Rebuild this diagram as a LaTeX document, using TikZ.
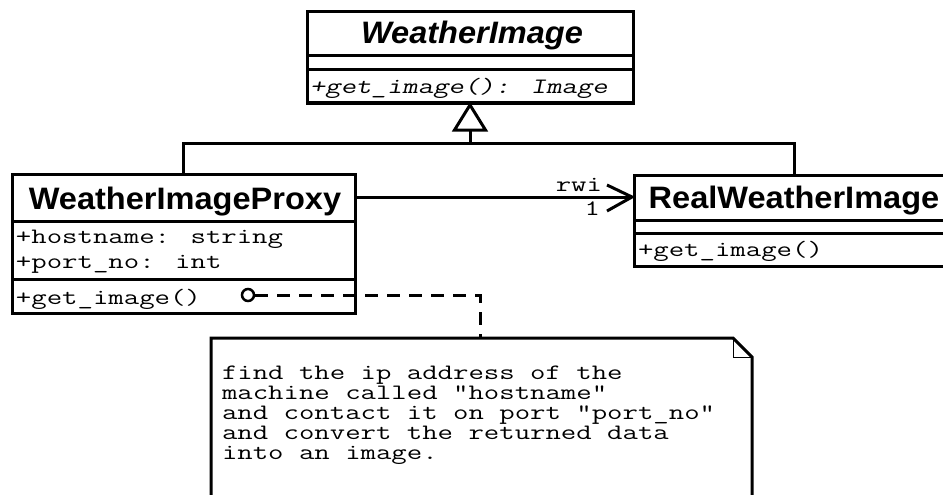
\documentclass[tikz,border=0pt]{standalone}
\usepackage{fontspec}
\newfontfamily\monof{Latin Modern Mono}[FakeStretch=1.36]
\newfontfamily\monosl{Latin Modern Mono}[FakeStretch=1.36, FakeSlant=0.2]
\newfontfamily\titlef[FakeStretch=1.05]{Liberation Sans}
\usetikzlibrary{calc}
\begin{document}
\begin{tikzpicture}[x=1pt,y=-1pt,
  line width=3pt,
  classbox/.style={draw, line width=3pt, inner sep=0pt, outer sep=0pt, anchor=north west},
  sepline/.style={line width=3pt},
  mono/.style={font=\monof\fontsize{22}{20}\selectfont, inner sep=0pt, outer sep=0pt},
  monoit/.style={font=\monosl\fontsize{22}{20}\selectfont, inner sep=0pt, outer sep=0pt},
  ctitle/.style={font=\titlef\bfseries\fontsize{31}{31}\selectfont, inner sep=0pt, outer sep=0pt, anchor=base},
  ctitleit/.style={font=\titlef\bfseries\itshape\fontsize{31}{31}\selectfont, inner sep=0pt, outer sep=0pt, anchor=base},
  dashline/.style={line width=3pt, dash pattern=on 13pt off 9pt},
  foldline/.style={line width=1pt}
]
\fill[white] (0,0) rectangle (943,495);
\useasboundingbox (0,0) rectangle (943,495);

% ---- WeatherImage ----
\node[classbox, minimum width=326pt, minimum height=91pt] (wi) at (307,12) {};
\draw[sepline] (wi.west |- 0,56) -- (wi.east |- 0,56);
\draw[sepline] (wi.west |- 0,70) -- (wi.east |- 0,70);
\node[ctitleit] (wit) at (472,44) {WeatherImage};
\node[monoit, anchor=base west] (wiop) at (310,94) {+get\_image(): Image};

% ---- WeatherImageProxy ----
\node[classbox, minimum width=343pt, minimum height=139pt] (pxy) at (12,174) {};
\draw[sepline] (pxy.west |- 0,221) -- (pxy.east |- 0,221);
\draw[sepline] (pxy.west |- 0,279) -- (pxy.east |- 0,279);
\node[ctitle] (pxyt) at (185,209) {WeatherImageProxy};
\node[mono, anchor=base west] (pxya1) at (16,243) {+hostname: string};
\node[mono, anchor=base west] (pxya2) at (16,268) {+port\_no: int};
\node[mono, anchor=base west] (pxyop) at (16,304) {+get\_image()};

% ---- RealWeatherImage ----
\node[classbox, minimum width=320pt, minimum height=91pt] (real) at (634,175) {};
\draw[sepline] (real.west |- 0,220) -- (real.east |- 0,220);
\draw[sepline] (real.west |- 0,233) -- (real.east |- 0,233);
\node[ctitle] (realt) at (794,208) {RealWeatherImage};
\node[mono, anchor=base west] (realop) at (638,256) {+get\_image()};

% ---- generalization ----
\coordinate (jn) at (470,143);
\coordinate (tb) at (470,130);
\draw (pxy.north) |- (jn) -| (real.north);
\draw (jn) -- (tb);
\draw[line join=miter] ($(tb)+(-15.5,0)$) -- ($(tb)+(0,-25)$) -- ($(tb)+(15.5,0)$) -- cycle;

% ---- association ----
\coordinate (tip) at (632,197);
\draw (pxy.east |- tip) -- (tip);
\draw[line join=miter] ($(tip)+(-25,-12)$) -- (tip) -- ($(tip)+(-25,14)$);
\node[mono, anchor=base east] (rwi) at (602,191) {rwi};
\node[mono, anchor=base east] (one) at (600,215) {1};

% ---- note ----
\draw[line join=miter] (211,530) -- (211,338) -- (733,338) -- (752,357) -- (752,530);
\draw[foldline] (733,338) -- (733,357) -- (752,357);
\coordinate (nt) at (480,338);
\foreach \t [count=\i] in {find the ip address of the,machine called "hostname",and contact it on port "port\_no",and convert the returned data,into an image.}{
  \node[mono, anchor=base west] (note\i) at (222,{359+20*\i}) {\t};
}

% ---- note link ----
\node[circle, draw, line width=2.5pt, minimum size=12pt, inner sep=0pt] (dot) at (248,295) {};
\coordinate (bend) at (480,295);
\draw[dashline] (dot.east) -- (bend) -- (nt);
\end{tikzpicture}
\end{document}
